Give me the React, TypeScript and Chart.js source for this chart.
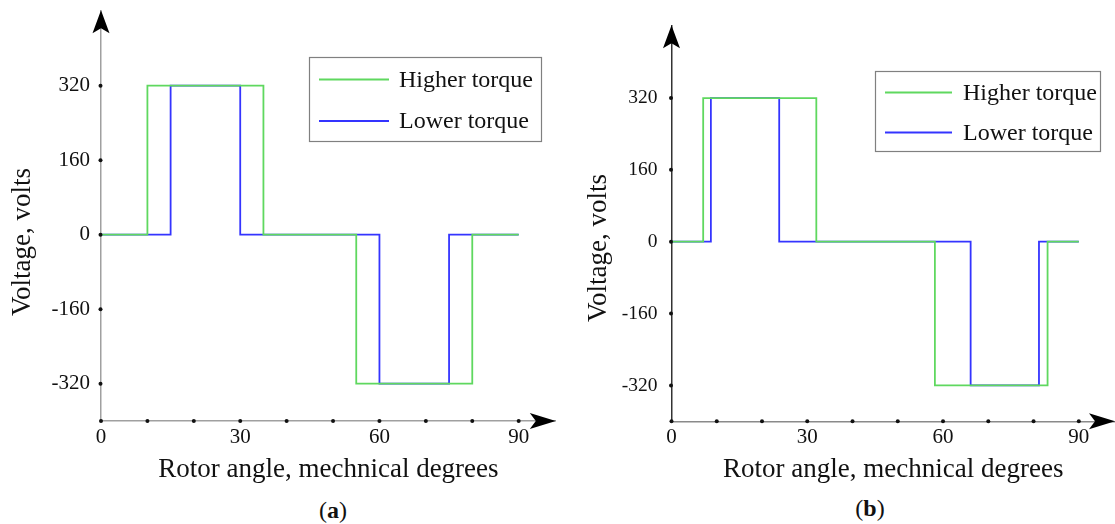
import React, { useEffect, useRef } from 'react';
import { Chart, registerables } from 'chart.js';

Chart.register(...registerables);

// ---------- data ----------
const X_TICKS = [0, 10, 20, 30, 40, 50, 60, 70, 80, 90];
const X_LABELED = [0, 30, 60, 90];
const Y_TICKS = [-320, -160, 0, 160, 320];
const X_MAX = 98;
const Y_MIN = -400;
const Y_MAX = 480;
const SERIES_NAMES = ['Higher torque', 'Lower torque'];
const X_TITLE = 'Rotor angle, mechnical degrees';
const Y_TITLE = 'Voltage, volts';

// (a) step edges (degrees) and the level that starts at each edge (volts)
const HIGH_A_X = [0, 10, 35, 55, 80, 90];
const HIGH_A_Y = [0, 320, 0, -320, 0, 0];
const LOW_A_X = [0, 15, 30, 60, 75, 90];
const LOW_A_Y = [0, 320, 0, -320, 0, 0];

// (b)
const HIGH_B_X = [0, 7, 32, 58.2, 83.1, 90];
const HIGH_B_Y = [0, 320, 0, -320, 0, 0];
const LOW_B_X = [0, 8.7, 23.8, 66.1, 81.2, 90];
const LOW_B_Y = [0, 320, 0, -320, 0, 0];

// ---------- styling ----------
const FONT = "'Liberation Serif', 'Times New Roman', serif";
const GREEN = '#5fd85f';
const BLUE = '#3434ff';

type PanelCfg = {
  caption: string;
  left: number;
  w: number;
  h: number;
  yAxisW: number;
  top: number;
  xAxisH: number;
  padRight: number;
  yAxisColor: string;
  xAxisColor: string;
  yTickPad: number;
  yTickSize: number;
  yTitleX: number;
  yTitleY: number;
  legend: { x1: number; y1: number; x2: number; y2: number; lx1: number; lx2: number; ly: number[]; tx: number };
  capX: number;
  capY: number;
  high: [number[], number[]];
  low: [number[], number[]];
};

const PANELS: PanelCfg[] = [
  {
    caption: 'a',
    left: 0,
    w: 560,
    h: 490,
    yAxisW: 101,
    top: 11.2,
    xAxisH: 490 - 420.9,
    padRight: 4.2,
    yAxisColor: '#a0a0a0',
    xAxisColor: '#a0a0a0',
    yTickPad: 11,
    yTickSize: 21,
    yTitleX: 23,
    yTitleY: 242,
    legend: { x1: 309.5, y1: 57.5, x2: 541.5, y2: 141.5, lx1: 319, lx2: 389, ly: [79.5, 121], tx: 399 },
    capX: 333,
    capY: 510,
    high: [HIGH_A_X, HIGH_A_Y],
    low: [LOW_A_X, LOW_A_Y],
  },
  {
    caption: 'b',
    left: 560,
    w: 555,
    h: 490,
    yAxisW: 111.5,
    top: 26.2,
    xAxisH: 490 - 421.3,
    padRight: 0,
    yAxisColor: '#333333',
    xAxisColor: '#8a8a8a',
    yTickPad: 14,
    yTickSize: 19.5,
    yTitleX: 38.5,
    yTitleY: 248,
    legend: { x1: 315.5, y1: 71.5, x2: 540.5, y2: 151.5, lx1: 325, lx2: 392, ly: [92.5, 132.5], tx: 403 },
    capX: 870,
    capY: 508,
    high: [HIGH_B_X, HIGH_B_Y],
    low: [LOW_B_X, LOW_B_Y],
  },
];

function makeOverlay(p: PanelCfg) {
  return {
    id: 'overlay',
    afterDraw(chart: any) {
      const ctx: CanvasRenderingContext2D = chart.ctx;
      const { left, right, top, bottom } = chart.chartArea;
      const xs = chart.scales.x;
      const ys = chart.scales.y;
      ctx.save();
      ctx.fillStyle = '#000';
      // y arrow
      ctx.beginPath();
      ctx.moveTo(left, top - 1);
      ctx.lineTo(left + 8.5, top + 22);
      ctx.lineTo(left, top + 17);
      ctx.lineTo(left - 8.5, top + 22);
      ctx.closePath();
      ctx.fill();
      // x arrow
      ctx.beginPath();
      ctx.moveTo(right, bottom);
      ctx.lineTo(right - 26, bottom - 8);
      ctx.lineTo(right - 20, bottom);
      ctx.lineTo(right - 26, bottom + 8);
      ctx.closePath();
      ctx.fill();
      // tick dots
      ctx.fillStyle = '#111';
      for (const v of X_TICKS) {
        ctx.beginPath();
        ctx.arc(xs.getPixelForValue(v), bottom, 2, 0, Math.PI * 2);
        ctx.fill();
      }
      for (const v of Y_TICKS) {
        ctx.beginPath();
        ctx.arc(left - 0.5, ys.getPixelForValue(v), 2, 0, Math.PI * 2);
        ctx.fill();
      }
      // legend
      const L = p.legend;
      ctx.fillStyle = '#fff';
      ctx.fillRect(L.x1, L.y1, L.x2 - L.x1, L.y2 - L.y1);
      ctx.strokeStyle = '#808080';
      ctx.lineWidth = 1.2;
      ctx.strokeRect(L.x1, L.y1, L.x2 - L.x1, L.y2 - L.y1);
      chart.data.datasets.forEach((ds: any, i: number) => {
        ctx.strokeStyle = ds.borderColor;
        ctx.lineWidth = 1.8;
        ctx.beginPath();
        ctx.moveTo(L.lx1, L.ly[i]);
        ctx.lineTo(L.lx2, L.ly[i]);
        ctx.stroke();
        ctx.fillStyle = '#111';
        ctx.font = `24px ${FONT}`;
        ctx.textAlign = 'left';
        ctx.textBaseline = 'middle';
        ctx.fillText(ds.label, L.tx, L.ly[i] + 1);
      });
      // y title
      ctx.translate(p.yTitleX, p.yTitleY);
      ctx.rotate(-Math.PI / 2);
      ctx.fillStyle = '#111';
      ctx.font = `27px ${FONT}`;
      ctx.textAlign = 'center';
      ctx.textBaseline = 'middle';
      ctx.fillText(Y_TITLE, 0, 0);
      ctx.restore();
    },
  };
}

const zeroPad = (s: any) => {
  s.paddingTop = 0;
  s.paddingBottom = 0;
  s.paddingLeft = 0;
  s.paddingRight = 0;
};

function Panel({ p }: { p: PanelCfg }) {
  const ref = useRef<HTMLCanvasElement>(null);
  useEffect(() => {
    const toPts = (xs: number[], ys: number[]) => xs.map((x, i) => ({ x, y: ys[i] }));
    const chart = new Chart(ref.current as HTMLCanvasElement, {
      type: 'line',
      data: {
        datasets: [
          {
            label: SERIES_NAMES[0],
            data: toPts(p.high[0], p.high[1]),
            borderColor: GREEN,
            borderWidth: 1.8,
            stepped: 'before',
            pointRadius: 0,
            fill: false,
            order: 0,
          },
          {
            label: SERIES_NAMES[1],
            data: toPts(p.low[0], p.low[1]),
            borderColor: BLUE,
            borderWidth: 1.8,
            stepped: 'before',
            pointRadius: 0,
            fill: false,
            order: 1,
          },
        ],
      },
      options: {
        responsive: false,
        animation: false,
        events: [],
        layout: { padding: { left: 0, top: p.top, right: p.padRight, bottom: 0 } },
        plugins: { legend: { display: false }, tooltip: { enabled: false }, title: { display: false } },
        scales: {
          x: {
            type: 'linear',
            position: 'bottom',
            min: 0,
            max: X_MAX,
            bounds: 'data',
            grid: { display: false, drawTicks: false },
            border: { display: true, color: p.xAxisColor, width: 1.5 },
            ticks: {
              autoSkip: false,
              maxRotation: 0,
              padding: 4,
              color: '#111',
              font: { family: FONT, size: 21 },
              callback: (v: any) => (X_LABELED.includes(Number(v)) ? String(v) : ''),
            },
            afterBuildTicks: (s: any) => {
              s.ticks = X_TICKS.map((value) => ({ value }));
            },
            afterFit: (s: any) => {
              s.height = p.xAxisH;
              zeroPad(s);
            },
            title: {
              display: true,
              text: X_TITLE,
              color: '#111',
              font: { family: FONT, size: 27 },
              padding: { top: 0, bottom: 3.8 },
            },
          },
          y: {
            type: 'linear',
            position: 'left',
            min: Y_MIN,
            max: Y_MAX,
            bounds: 'data',
            grid: { display: false, drawTicks: false },
            border: { display: true, color: p.yAxisColor, width: 1.5 },
            ticks: {
              padding: p.yTickPad,
              color: '#111',
              font: { family: FONT, size: p.yTickSize },
              callback: (v: any) => String(v),
            },
            afterBuildTicks: (s: any) => {
              s.ticks = Y_TICKS.map((value) => ({ value }));
            },
            afterFit: (s: any) => {
              s.width = p.yAxisW;
              zeroPad(s);
            },
          },
        },
      } as any,
      plugins: [makeOverlay(p)],
    });
    return () => chart.destroy();
  }, [p]);
  return (
    <>
      <canvas
        ref={ref}
        width={p.w}
        height={p.h}
        style={{ position: 'absolute', left: p.left, top: 0, width: p.w, height: p.h }}
      />
      <div
        style={{
          position: 'absolute',
          left: p.capX - 50,
          top: p.capY - 15,
          width: 100,
          height: 30,
          lineHeight: '30px',
          textAlign: 'center',
          fontFamily: FONT,
          fontSize: 24,
          color: '#111',
        }}
      >
        (<b>{p.caption}</b>)
      </div>
    </>
  );
}

export default function App() {
  return (
    <div
      style={{
        position: 'absolute',
        left: 0,
        top: 0,
        width: 1115,
        height: 524,
        background: '#fff',
        overflow: 'hidden',
      }}
    >
      {PANELS.map((p) => (
        <Panel key={p.caption} p={p} />
      ))}
    </div>
  );
}
